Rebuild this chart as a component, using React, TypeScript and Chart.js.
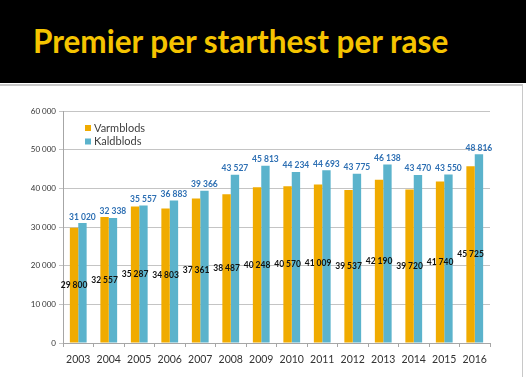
import React, { useEffect, useRef } from "react";
import { Chart, registerables } from "chart.js";

Chart.register(...registerables);

const years = ["2003", "2004", "2005", "2006", "2007", "2008", "2009", "2010", "2011", "2012", "2013", "2014", "2015", "2016"];
const varmblods = [29800, 32557, 35287, 34803, 37361, 38487, 40248, 40570, 41009, 39537, 42190, 39720, 41740, 45725];
const kaldblods = [31020, 32338, 35557, 36883, 39366, 43527, 45813, 44234, 44693, 43775, 46138, 43470, 43550, 48816];
const seriesNames = ["Varmblods", "Kaldblods"];
const yMax = 60000;
const yStep = 10000;

const ORANGE = "#F0AB00";
const BLUE = "#5BB3CC";
const LABEL_BLUE = "#2D6FB3";
const FONT = "Lato";

const fmt = (v: number) => String(v).replace(/\B(?=(\d{3})+(?!\d))/g, " ");

const labelPlugin = {
  id: "barLabels",
  afterDatasetsDraw(chart: any) {
    const ctx = chart.ctx;
    ctx.save();
    ctx.textAlign = "center";
    chart.data.datasets.forEach((ds: any, i: number) => {
      const meta = chart.getDatasetMeta(i);
      meta.data.forEach((bar: any, j: number) => {
        const text = fmt(ds.data[j]);
        if (i === 0) {
          ctx.fillStyle = "#111111";
          ctx.font = `bold 8.5px ${FONT}`;
          ctx.textBaseline = "middle";
          ctx.fillText(text, bar.x, (bar.y + bar.base) / 2);
        } else {
          ctx.fillStyle = LABEL_BLUE;
          ctx.font = `bold 8.5px ${FONT}`;
          ctx.textBaseline = "bottom";
          ctx.fillText(text, bar.x, bar.y - 2);
        }
      });
    });
    ctx.restore();
  },
};

const legendPlugin = {
  id: "insideLegend",
  afterDraw(chart: any) {
    const ctx = chart.ctx;
    const area = chart.chartArea;
    ctx.save();
    ctx.font = `11px ${FONT}`;
    ctx.textBaseline = "middle";
    ctx.textAlign = "left";
    chart.data.datasets.forEach((ds: any, i: number) => {
      const cy = area.top + 17 + i * 13.5;
      const x = area.left + 22;
      ctx.fillStyle = ds.backgroundColor;
      ctx.fillRect(x, cy - 3, 6, 6);
      ctx.fillStyle = "#404040";
      ctx.fillText(ds.label, x + 9, cy);
    });
    ctx.restore();
  },
};

function BarChart() {
  const ref = useRef<HTMLCanvasElement | null>(null);
  useEffect(() => {
    if (!ref.current) return;
    const chart = new Chart(ref.current, {
      type: "bar",
      data: {
        labels: years,
        datasets: [
          { label: seriesNames[0], data: varmblods, backgroundColor: ORANGE, categoryPercentage: 0.55, barPercentage: 1.0 },
          { label: seriesNames[1], data: kaldblods, backgroundColor: BLUE, categoryPercentage: 0.55, barPercentage: 1.0 },
        ],
      },
      options: {
        animation: false,
        responsive: false,
        maintainAspectRatio: false,
        layout: { padding: { top: 25, right: 32, left: 0, bottom: 0 } },
        plugins: {
          legend: { display: false },
          tooltip: { enabled: false },
          title: { display: false },
        },
        scales: {
          x: {
            grid: { display: true, drawOnChartArea: false, drawTicks: true, tickLength: 4, color: "#A6A6A6" },
            border: { color: "#A6A6A6" },
            ticks: { color: "#333333", font: { family: FONT, size: 10.5 }, padding: 6, maxRotation: 0 },
            afterFit: (s: any) => { s.height = 34; },
          },
          y: {
            min: 0,
            max: yMax,
            grid: { color: "#C4C4C4", tickLength: 4 },
            border: { color: "#A6A6A6" },
            ticks: {
              stepSize: yStep,
              color: "#333333",
              font: { family: FONT, size: 8 },
              padding: 3,
              callback: (v: any) => fmt(Number(v)),
            },
            afterFit: (s: any) => { s.width = 63; },
          },
        },
      },
      plugins: [labelPlugin, legendPlugin],
    });
    return () => chart.destroy();
  }, []);
  return <canvas ref={ref} width={522} height={291} style={{ position: "absolute", left: 0, top: 86, width: 522, height: 291 }} />;
}

export default function App() {
  return (
    <div style={{ position: "absolute", left: 0, top: 0, width: 526, height: 377, background: "#ffffff", overflow: "hidden" }}>
      <div style={{ position: "absolute", left: 0, top: 0, width: 526, height: 83, background: "#000000" }} />
      <div style={{ position: "absolute", left: 0, top: 84, width: 522, height: 2, background: "#C8C8C8" }} />
      <div style={{ position: "absolute", left: 522, top: 84, width: 1, height: 293, background: "#C8C8C8" }} />
      <div
        style={{
          position: "absolute",
          left: 33,
          top: 26,
          fontFamily: FONT,
          fontWeight: 700,
          fontSize: 31.5,
          lineHeight: "31px",
          color: "#F5C400",
          whiteSpace: "nowrap",
        }}
      >
        Premier per starthest per rase
      </div>
      <BarChart />
    </div>
  );
}
